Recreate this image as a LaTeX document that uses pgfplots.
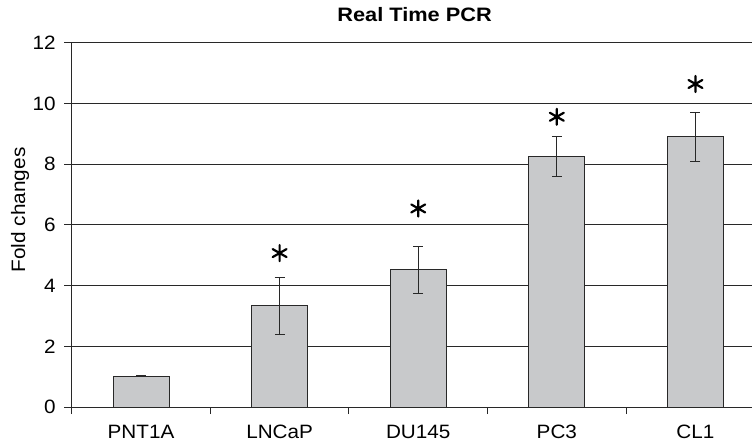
\documentclass[border=0pt]{standalone}
\usepackage{fontspec}
\setmainfont{Liberation Sans}[FakeStretch=1.07]
\newfontfamily\titlefont{Liberation Sans}[FakeStretch=1.12]
\usepackage{pgfplots}
\pgfplotsset{compat=1.18}
\usepackage{pgfplotstable}
\definecolor{barfill}{RGB}{200,201,203}
\definecolor{dk}{RGB}{40,40,40}
\pgfplotstableread{
x y e
0 1.01 0.02
1 3.33 0.95
2 4.52 0.78
3 8.26 0.66
4 8.90 0.80
}\datatab
\pgfplotstableread{
x y
1 5.07
2 6.54
3 9.56
4 10.64
}\startab
\begin{document}
\begin{tikzpicture}
\begin{axis}[
  at={(0,0)}, anchor=south west,
  scale only axis,
  width=680.3bp, height=364.3bp,
  xmin=-0.5, xmax=4.408,
  ymin=0, ymax=12,
  axis x line*=bottom, axis y line*=left,
  axis line style={draw=dk, line width=1bp},
  tick align=outside,
  xtick={0,1,2,3,4},
  xticklabels={PNT1A,LNCaP,DU145,PC3,CL1},
  major x tick style={draw=none},
  minor xtick={-0.5,0.5,1.5,2.5,3.5},
  minor x tick style={draw=dk, line width=1bp},
  minor tick length=7bp,
  ytick={0,2,...,12},
  major tick length=7.5bp,
  ytick style={draw=dk, line width=1bp},
  ymajorgrids,
  major grid style={draw=dk, line width=1bp},
  /pgf/number format/assume math mode=true,
  every tick label/.append style={font=\fontsize{19.4}{22}\selectfont, text=black},
  xticklabel style={yshift=-7bp},
  yticklabel style={xshift=-5bp},
  title={Real Time PCR},
  title style={font=\titlefont\bfseries\fontsize{19.5}{22}\selectfont,
    at={(0.504,1)}, anchor=base, yshift=15.7bp},
  ylabel={Fold changes},
  every axis y label/.style={at={(-0.076,0.541)}, rotate=90, anchor=center,
    font=\fontsize{19.5}{22}\selectfont},
  clip=false,
]
\addplot[ybar, bar width=56bp, bar shift=0pt, fill=barfill, draw=dk, line width=1bp,
  error bars/.cd, y dir=both, y explicit,
  error bar style={draw=dk, line width=1bp},
  error mark options={rotate=90, draw=dk, line width=1bp, mark size=5bp}]
  table[x=x, y=y, y error=e] {\datatab};
\addplot[only marks, mark=asterisk, mark size=8bp,
  mark options={draw=black, line width=2.2bp, line cap=round}]
  table[x=x, y=y] {\startab};
\end{axis}
\pgfresetboundingbox
\path[use as bounding box] (-71.7bp,-37bp) rectangle (680.3bp,407bp);
\end{tikzpicture}
\end{document}
